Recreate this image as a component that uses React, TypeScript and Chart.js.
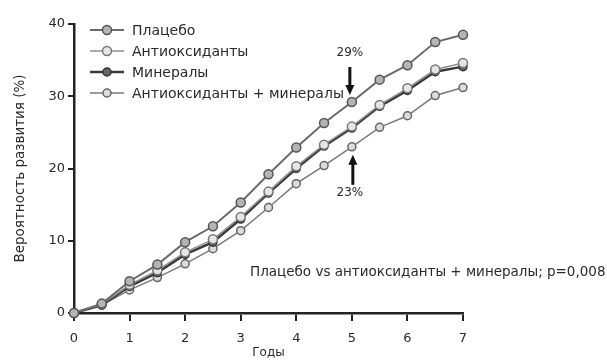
import { useEffect, useRef } from "react";
import { Chart, registerables } from "chart.js";

Chart.register(...registerables);

const years = [0, 0.5, 1, 1.5, 2, 2.5, 3, 3.5, 4, 4.5, 5, 5.5, 6, 6.5, 7];
const placebo = [0, 1.3, 4.4, 6.7, 9.8, 12.0, 15.3, 19.2, 22.9, 26.3, 29.2, 32.3, 34.3, 37.5, 38.5];
const antioxidants = [0, 1.2, 3.9, 5.9, 8.4, 10.2, 13.3, 16.8, 20.3, 23.3, 25.8, 28.8, 31.1, 33.7, 34.6];
const minerals = [0, 1.1, 3.7, 5.6, 8.1, 9.8, 13.0, 16.6, 20.0, 23.1, 25.6, 28.6, 30.8, 33.4, 34.1];
const antioxMinerals = [0, 1.1, 3.2, 4.9, 6.8, 8.9, 11.4, 14.6, 17.9, 20.4, 23.0, 25.7, 27.3, 30.1, 31.2];

const seriesNames = ["Плацебо", "Антиоксиданты", "Минералы", "Антиоксиданты + минералы"];
const yTicks = [0, 10, 20, 30, 40];
const xTicks = [0, 1, 2, 3, 4, 5, 6, 7];
const yTitle = "Вероятность развития (%)";
const xTitle = "Годы";
const noteText = "Плацебо vs антиоксиданты + минералы; p=0,008";
const markYear = 5;

const FONT = "'DejaVu Sans', 'Liberation Sans', sans-serif";

const styles = [
  { border: "#6b6b6b", width: 2, bg: "#b4b4b4", pborder: "#555", radius: 4.5 },
  { border: "#8f8f8f", width: 1.5, bg: "#e6e6e6", pborder: "#777", radius: 4.5 },
  { border: "#3a3a3a", width: 2.5, bg: "#666", pborder: "#333", radius: 4 },
  { border: "#7a7a7a", width: 1.5, bg: "#dcdcdc", pborder: "#666", radius: 4 },
];

const overlayPlugin = {
  id: "overlay",
  afterDraw(chart: any) {
    const ctx = chart.ctx as CanvasRenderingContext2D;
    const xs = chart.scales.x;
    const ys = chart.scales.y;
    ctx.save();
    // legend
    chart.data.datasets.forEach((ds: any, i: number) => {
      const y = 30 + i * 21;
      ctx.strokeStyle = ds.borderColor;
      ctx.lineWidth = ds.borderWidth;
      ctx.beginPath();
      ctx.moveTo(90, y);
      ctx.lineTo(124, y);
      ctx.stroke();
      ctx.beginPath();
      ctx.arc(107, y, ds.pointRadius, 0, Math.PI * 2);
      ctx.fillStyle = ds.pointBackgroundColor;
      ctx.fill();
      ctx.lineWidth = 1.5;
      ctx.strokeStyle = ds.pointBorderColor;
      ctx.stroke();
      ctx.fillStyle = "#2a2a2a";
      ctx.font = `14px ${FONT}`;
      ctx.textAlign = "left";
      ctx.textBaseline = "middle";
      ctx.fillText(ds.label, 132, y + 1);
    });
    // arrows
    const idx = years.indexOf(markYear);
    const px = xs.getPixelForValue(markYear);
    const topY = ys.getPixelForValue(placebo[idx]);
    const botY = ys.getPixelForValue(antioxMinerals[idx]);
    const drawArrow = (x: number, fromY: number, toY: number) => {
      const dir = toY > fromY ? 1 : -1;
      ctx.strokeStyle = "#111";
      ctx.fillStyle = "#111";
      ctx.lineWidth = 3;
      ctx.beginPath();
      ctx.moveTo(x, fromY);
      ctx.lineTo(x, toY - dir * 8);
      ctx.stroke();
      ctx.beginPath();
      ctx.moveTo(x - 4.5, toY - dir * 10);
      ctx.lineTo(x + 4.5, toY - dir * 10);
      ctx.lineTo(x, toY);
      ctx.closePath();
      ctx.fill();
    };
    drawArrow(px - 2, topY - 35, topY - 7);
    drawArrow(px + 1, botY + 38, botY + 8);
    ctx.fillStyle = "#2a2a2a";
    ctx.font = `12px ${FONT}`;
    ctx.textAlign = "center";
    ctx.textBaseline = "middle";
    ctx.fillText(`${Math.round(placebo[idx])}%`, px - 2, topY - 49);
    ctx.fillText(`${Math.round(antioxMinerals[idx])}%`, px - 2, botY + 46);
    // note
    ctx.textAlign = "left";
    ctx.font = `13.5px ${FONT}`;
    ctx.fillText(noteText, 250, 272);
    ctx.restore();
  },
};

export default function App() {
  const ref = useRef<HTMLCanvasElement>(null);
  useEffect(() => {
    document.body.style.margin = "0";
    const seriesData = [placebo, antioxidants, minerals, antioxMinerals];
    const chart = new Chart(ref.current!, {
      type: "line",
      data: {
        datasets: seriesData.map((arr, i) => ({
          label: seriesNames[i],
          data: years.map((x, j) => ({ x, y: arr[j] })),
          borderColor: styles[i].border,
          borderWidth: styles[i].width,
          pointBackgroundColor: styles[i].bg,
          pointBorderColor: styles[i].pborder,
          pointBorderWidth: 1.5,
          pointRadius: styles[i].radius,
          tension: 0,
          clip: false as any,
        })),
      },
      options: {
        animation: false,
        responsive: false,
        layout: { padding: { left: 0, right: 144, top: 24, bottom: 0 } },
        plugins: { legend: { display: false }, tooltip: { enabled: false } },
        scales: {
          x: {
            type: "linear",
            min: 0,
            max: 7,
            afterBuildTicks: (s: any) => {
              s.ticks = xTicks.map((v) => ({ value: v }));
            },
            afterFit: (s: any) => {
              s.height = 48;
            },
            ticks: { color: "#2a2a2a", font: { family: FONT, size: 13 }, padding: 10 },
            grid: { drawOnChartArea: false, drawTicks: true, tickLength: 8, color: "#222", lineWidth: 2 },
            border: { display: true, color: "#222", width: 2.5 },
            title: { display: true, text: xTitle, color: "#2a2a2a", font: { family: FONT, size: 12 }, padding: { top: 0, bottom: 1 } },
          },
          y: {
            type: "linear",
            min: 0,
            max: 40,
            afterBuildTicks: (s: any) => {
              s.ticks = yTicks.map((v) => ({ value: v }));
            },
            afterFit: (s: any) => {
              s.width = 74;
            },
            ticks: { color: "#2a2a2a", font: { family: FONT, size: 13 }, padding: 3 },
            grid: { drawOnChartArea: false, drawTicks: true, tickLength: 6, color: "#222", lineWidth: 2 },
            border: { display: true, color: "#222", width: 2.5 },
            title: { display: true, text: yTitle, color: "#2a2a2a", font: { family: FONT, size: 13.5 }, padding: { top: 12, bottom: 0 } },
          },
        },
      },
      plugins: [overlayPlugin],
    });
    return () => chart.destroy();
  }, []);
  return <canvas ref={ref} width={607} height={361} style={{ display: "block", width: 607, height: 361 }} />;
}
